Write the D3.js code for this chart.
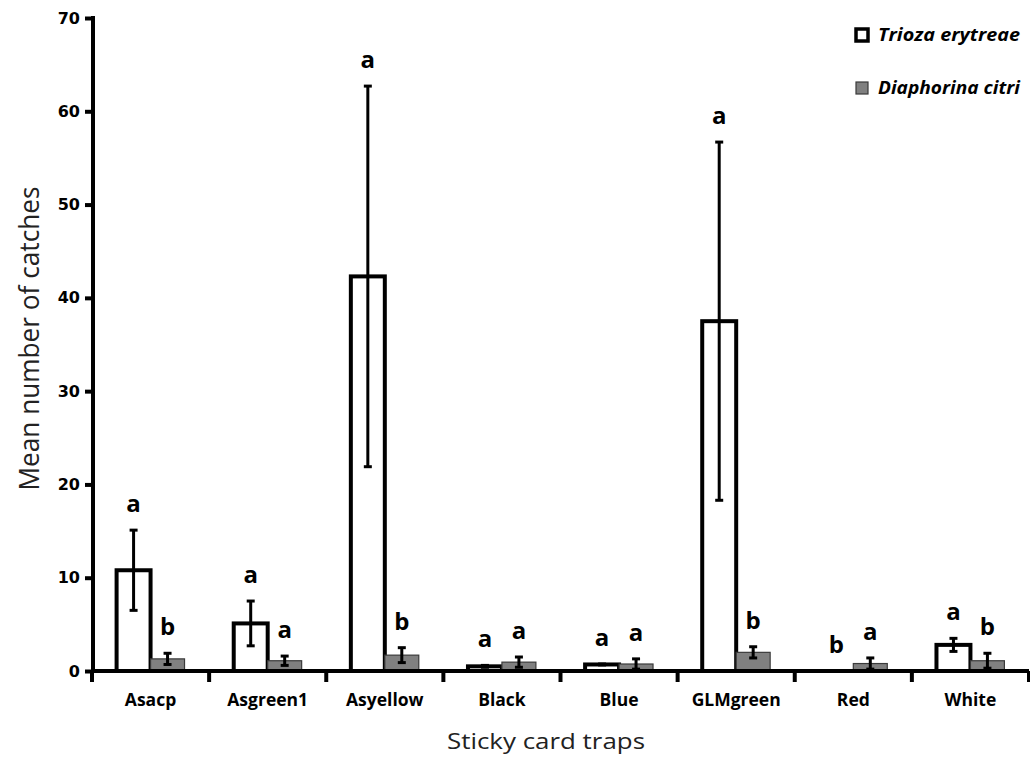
<!DOCTYPE html>
<html>
<head>
<meta charset="utf-8">
<script src="https://cdn.jsdelivr.net/npm/d3@7"></script>
<style>
  html, body { margin: 0; padding: 0; background: #fff; }
  svg { display: block; }
</style>
</head>
<body>
<svg id="chart" width="1030" height="765"></svg>
<script>
// Sticky card trap catches per trap type, two psyllid species
const traps = ["Asacp", "Asgreen1", "Asyellow", "Black", "Blue", "GLMgreen", "Red", "White"];
const series = ["Trioza erytreae", "Diaphorina citri"];

const triozaMean = [10.8, 5.1, 42.3, 0.5, 0.7, 37.5, 0, 2.8];
const triozaSE   = [4.3, 2.4, 20.4, 0.1, 0.05, 19.2, 0, 0.7];
const triozaLetters = ["a", "a", "a", "a", "a", "a", "b", "a"];

const citriMean = [1.3, 1.1, 1.7, 0.95, 0.75, 2.0, 0.8, 1.1];
const citriSE   = [0.6, 0.5, 0.8, 0.55, 0.55, 0.6, 0.6, 0.8];
const citriLetters = ["b", "a", "b", "a", "a", "b", "a", "b"];

const yTicks = [0, 10, 20, 30, 40, 50, 60, 70];

const rows = [];
traps.forEach((t, i) => {
  rows.push({ trap: t, sp: series[0], mean: triozaMean[i], se: triozaSE[i], letter: triozaLetters[i] });
  rows.push({ trap: t, sp: series[1], mean: citriMean[i], se: citriSE[i], letter: citriLetters[i] });
});

const svg = d3.select("#chart");
const plotL = 92, plotR = 1029, plotT = 18, plotB = 671;

const x = d3.scaleBand().domain(traps).range([plotL, plotR])
  .paddingInner(0.42).paddingOuter(0.21);
const xs = d3.scaleBand().domain(series).range([0, x.bandwidth()]);
const y = d3.scaleLinear().domain([0, 70]).range([plotB, plotT]);

const fills = { "Trioza erytreae": "#ffffff", "Diaphorina citri": "#808080" };
const strokes = { "Trioza erytreae": "#000", "Diaphorina citri": "#3a3a3a" };
const strokeW = { "Trioza erytreae": 4, "Diaphorina citri": 1.2 };

// bars
svg.append("g").selectAll("rect").data(rows.filter(d => d.mean > 0)).join("rect")
  .attr("x", d => x(d.trap) + xs(d.sp))
  .attr("width", xs.bandwidth())
  .attr("y", d => y(d.mean))
  .attr("height", d => y(0) - y(d.mean))
  .attr("fill", d => fills[d.sp])
  .attr("stroke", d => strokes[d.sp])
  .attr("stroke-width", d => strokeW[d.sp]);

// error bars
const eb = svg.append("g").attr("stroke", "#000");
rows.filter(d => d.se > 0).forEach(d => {
  const cx = x(d.trap) + xs(d.sp) + xs.bandwidth() / 2;
  const y1 = y(d.mean + d.se), y0 = y(Math.max(0, d.mean - d.se));
  eb.append("line").attr("x1", cx).attr("x2", cx).attr("y1", y1).attr("y2", y0).attr("stroke-width", 3);
  [y1, y0].forEach(yy => {
    eb.append("line").attr("x1", cx - 4).attr("x2", cx + 4).attr("y1", yy).attr("y2", yy).attr("stroke-width", 3);
  });
});

// significance letters
svg.append("g").selectAll("text").data(rows).join("text")
  .attr("x", d => x(d.trap) + xs(d.sp) + xs.bandwidth() / 2)
  .attr("y", d => y(d.mean + d.se) - 18)
  .attr("text-anchor", "middle")
  .attr("font-family", "'Open Sans', sans-serif")
  .attr("font-weight", 700)
  .attr("font-size", 24)
  .attr("fill", "#000")
  .text(d => d.letter);

// y axis
const yAxis = svg.append("g").attr("transform", `translate(${plotL + 1},0)`)
  .call(d3.axisLeft(y).tickValues(yTicks).tickSize(8).tickPadding(5));
yAxis.select(".domain").attr("stroke-width", 4).attr("d", `M0,${plotT - 2}V${plotB + 2}`);
yAxis.selectAll(".tick line").attr("stroke-width", 4);
yAxis.selectAll(".tick text")
  .attr("font-family", "'DejaVu Sans', sans-serif")
  .attr("font-weight", 700)
  .attr("font-size", 16)
  .attr("fill", "#000");

// x axis: ticks on category boundaries
const xAxis = svg.append("g").attr("transform", `translate(0,${plotB})`);
xAxis.append("line").attr("x1", plotL - 1).attr("x2", plotR).attr("y1", 0).attr("y2", 0)
  .attr("stroke", "#000").attr("stroke-width", 4);
const bounds = traps.map(t => x(t) - x.step() * x.paddingInner() / 2);
bounds.push(plotR);
xAxis.selectAll("line.tk").data(bounds).join("line").attr("class", "tk")
  .attr("x1", d => d).attr("x2", d => d).attr("y1", 0).attr("y2", 11)
  .attr("stroke", "#000").attr("stroke-width", 4);
xAxis.selectAll("text").data(traps).join("text")
  .attr("x", d => x(d) + x.bandwidth() / 2)
  .attr("y", 35)
  .attr("text-anchor", "middle")
  .attr("font-family", "'Open Sans', sans-serif")
  .attr("font-weight", 700)
  .attr("font-size", 17.5)
  .attr("fill", "#000")
  .text(d => d);

// axis titles
svg.append("text")
  .attr("transform", `translate(39,${(plotT + plotB) / 2 - 6}) rotate(-90)`)
  .attr("text-anchor", "middle")
  .attr("font-family", "'Open Sans', sans-serif")
  .attr("font-size", 27)
  .attr("fill", "#222")
  .attr("textLength", 304).attr("lengthAdjust", "spacingAndGlyphs")
  .text("Mean number of catches");

svg.append("text")
  .attr("x", 546).attr("y", 749)
  .attr("text-anchor", "middle")
  .attr("font-family", "'Open Sans', sans-serif")
  .attr("font-size", 22)
  .attr("fill", "#222")
  .attr("textLength", 198).attr("lengthAdjust", "spacingAndGlyphs")
  .text("Sticky card traps");

// legend
const lg = svg.append("g");
series.forEach((s, i) => {
  const ly = 35 + i * 53;
  lg.append("rect").attr("x", 856).attr("y", ly - 6)
    .attr("width", 12).attr("height", 12)
    .attr("fill", fills[s])
    .attr("stroke", i === 0 ? "#000" : "#3a3a3a")
    .attr("stroke-width", i === 0 ? 3.5 : 1.2);
  lg.append("text").attr("x", 878).attr("y", ly + 6)
    .attr("font-family", "'Open Sans', sans-serif")
    .attr("font-style", "italic").attr("font-weight", 700)
    .attr("font-size", 18)
    .attr("fill", "#000")
    .attr("textLength", 142).attr("lengthAdjust", "spacingAndGlyphs")
    .text(s);
});
</script>
</body>
</html>
